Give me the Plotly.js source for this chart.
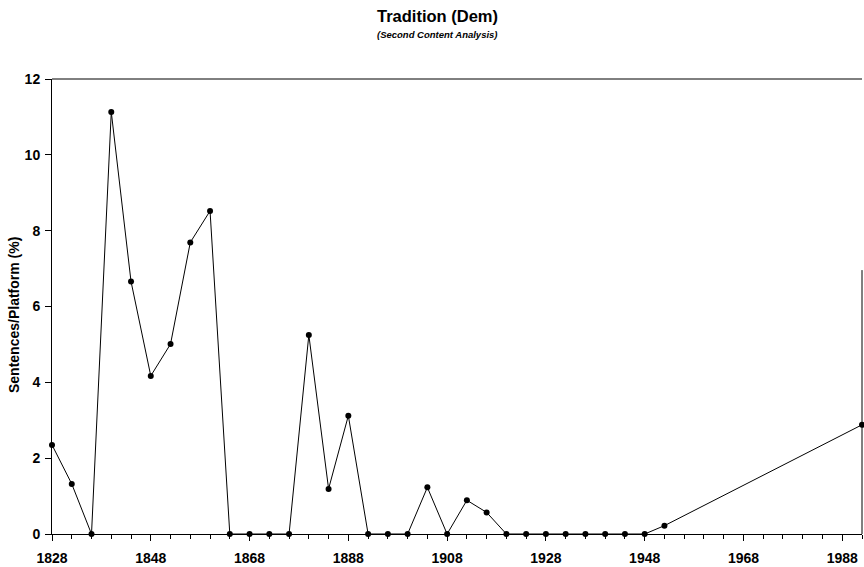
<!DOCTYPE html>
<html>
<head>
<meta charset="utf-8">
<script src="https://cdn.plot.ly/plotly-3.0.1.min.js"></script>
<style>
html,body{margin:0;padding:0;background:#fff;}
#chart{width:864px;height:567px;}
</style>
</head>
<body>
<div id="chart"></div>
<script>
// Platform years (x) and share of sentences on "Tradition" (%)
var years = [1828, 1832, 1836, 1840, 1844, 1848, 1852, 1856, 1860, 1864,
             1868, 1872, 1876, 1880, 1884, 1888, 1892, 1896, 1900, 1904,
             1908, 1912, 1916, 1920, 1924, 1928, 1932, 1936, 1940, 1944,
             1948, 1952, 1992];
var tradition = [2.35, 1.32, 0, 11.13, 6.66, 4.17, 5.01, 7.69, 8.52, 0,
                 0, 0, 0, 5.25, 1.19, 3.12, 0, 0, 0, 1.23,
                 0, 0.89, 0.57, 0, 0, 0, 0, 0, 0, 0,
                 0, 0.22, 2.88];
var xTickVals = [1828, 1848, 1868, 1888, 1908, 1928, 1948, 1968, 1988];
var xTickText = ['1828', '1848', '1868', '1888', '1908', '1928', '1948', '1968', '1988'];
var yTickVals = [0, 2, 4, 6, 8, 10, 12];

var tickFont = {family: 'Liberation Sans, Arial, sans-serif', size: 14, color: '#000', weight: 'bold'};

var trace = {
  x: years,
  y: tradition,
  type: 'scatter',
  mode: 'lines+markers',
  line: {color: '#000', width: 1},
  marker: {color: '#000', size: 6, symbol: 'circle'},
  cliponaxis: false,
  hoverinfo: 'x+y'
};

var layout = {
  width: 864,
  height: 567,
  margin: {l: 52, r: 2, t: 79, b: 33},
  paper_bgcolor: '#fff',
  plot_bgcolor: '#fff',
  showlegend: false,
  font: {family: 'Liberation Sans, Arial, sans-serif', color: '#000'},
  xaxis: {
    range: [1828, 1992],
    tickmode: 'array',
    tickvals: xTickVals,
    ticktext: xTickText,
    ticks: 'outside',
    ticklen: 6,
    tickwidth: 1,
    tickcolor: '#000',
    ticklabelstandoff: 5,
    minor: {dtick: 4, tick0: 1828, ticks: 'outside', ticklen: 4, tickwidth: 1, tickcolor: '#000', showgrid: false},
    showgrid: false,
    zeroline: false,
    showline: true,
    linecolor: '#000',
    linewidth: 1,
    mirror: false,
    tickfont: tickFont,
    fixedrange: true
  },
  yaxis: {
    range: [0, 12],
    tickmode: 'array',
    tickvals: yTickVals,
    ticks: 'outside',
    ticklen: 6,
    tickwidth: 1,
    tickcolor: '#000',
    ticklabelstandoff: 2,
    showgrid: false,
    zeroline: false,
    showline: true,
    linecolor: '#000',
    linewidth: 1,
    tickfont: tickFont,
    fixedrange: true
  },
  shapes: [
    {type: 'line', xref: 'paper', yref: 'paper', x0: 0, x1: 1, y0: 1, y1: 1,
     line: {color: '#000', width: 1}},
    {type: 'line', xref: 'paper', yref: 'paper', x0: 1, x1: 1, y0: 0, y1: 0.58,
     line: {color: '#000', width: 1}}
  ],
  annotations: [
    {text: '<b>Tradition (Dem)</b>', xref: 'paper', yref: 'paper', x: 0.4765, y: 1.1385,
     xanchor: 'center', yanchor: 'middle', showarrow: false,
     font: {family: 'Liberation Sans, Arial, sans-serif', size: 16.5, color: '#000'}},
    {text: '<b><i>(Second Content Analysis)</i></b>', xref: 'paper', yref: 'paper', x: 0.4765, y: 1.0978,
     xanchor: 'center', yanchor: 'middle', showarrow: false,
     font: {family: 'Liberation Sans, Arial, sans-serif', size: 9.5, color: '#000'}},
    {text: '<b>Sentences/Platform (%)</b>', xref: 'paper', yref: 'paper', x: 0, y: 0.4813,
     xanchor: 'center', yanchor: 'middle', xshift: -38, textangle: -90, showarrow: false,
     font: {family: 'Liberation Sans, Arial, sans-serif', size: 14, color: '#000'}}
  ]
};

Plotly.newPlot('chart', [trace], layout, {staticPlot: true, displayModeBar: false});
</script>
</body>
</html>
